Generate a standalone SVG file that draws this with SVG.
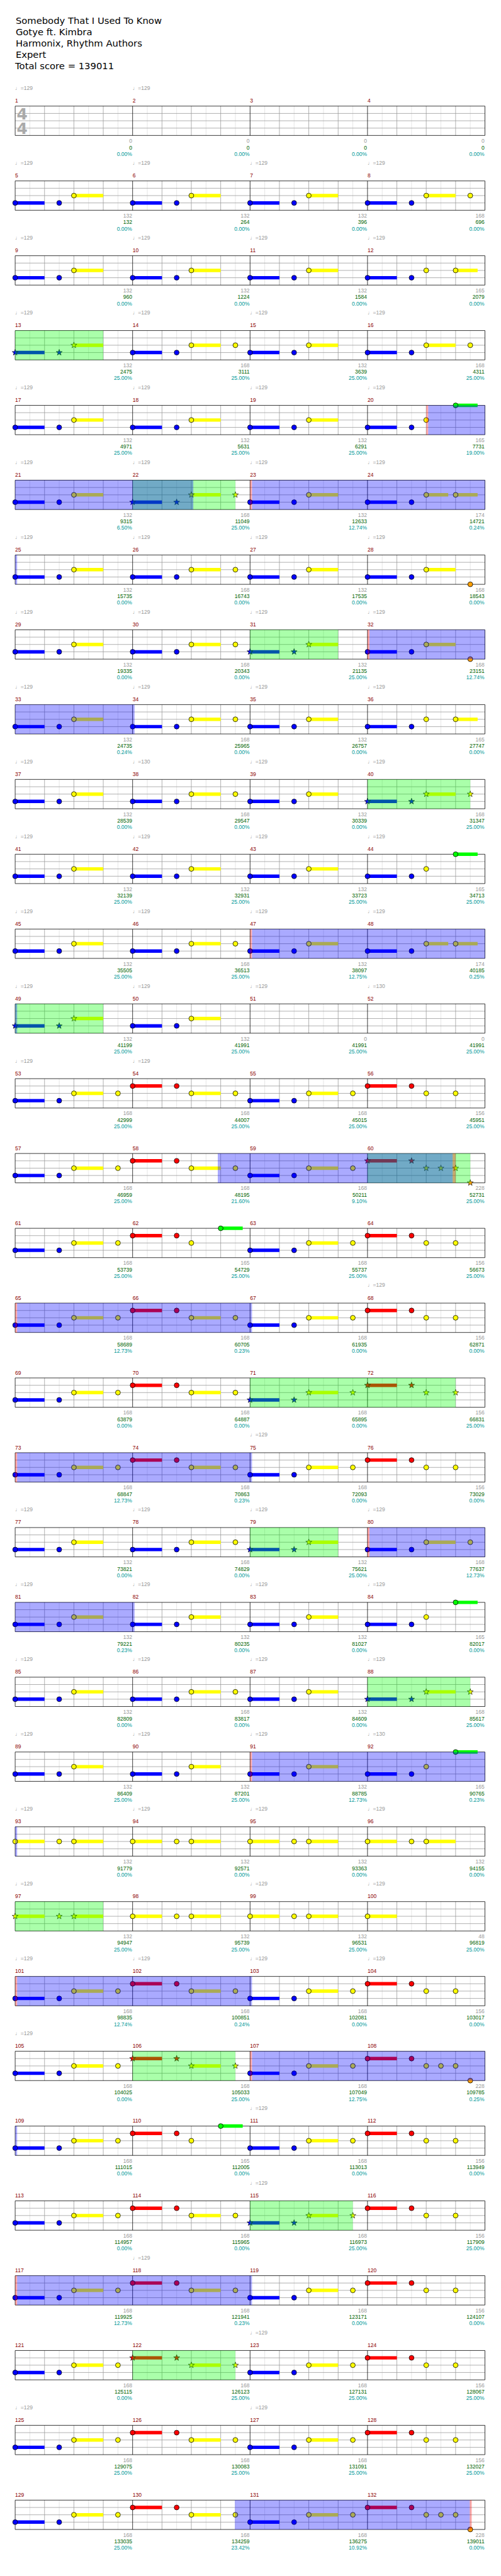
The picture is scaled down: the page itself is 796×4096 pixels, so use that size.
<svg xmlns="http://www.w3.org/2000/svg" xmlns:xlink="http://www.w3.org/1999/xlink" width="796" height="4096" viewBox="0 0 796 4096">
<style>
text{font-family:"Liberation Sans",Arial,sans-serif;font-size:11px}
.h{font-family:"DejaVu Sans",sans-serif;font-size:19px;fill:#000}
.ts{font-family:"DejaVu Sans",sans-serif;font-weight:bold;font-size:32px;fill:#aaa}
.mn{fill:#8b0000}
.tp{fill:#999}
.s1,.s2,.s3{text-anchor:end}
.s1{fill:#999}.s2{fill:#006400}.s3{fill:#009999}
.sb,.sy,.sr,.sg{stroke-width:7;fill:none}
.sb{stroke:#00f}.sy{stroke:#ff0}.sr{stroke:#f00}.sg{stroke:#0f0}
circle{stroke:#000;stroke-width:1}
.b{fill:#00f}.y{fill:#ff0}.r{fill:#f00}.g{fill:#0f0}.o{fill:#ffa000}
.ob{fill:#00f;fill-opacity:.333}.og{fill:#0f0;fill-opacity:.333}.op{fill:#f00;fill-opacity:.333}
</style>
<defs>
<g id="staff" fill="none" stroke-width="1">
<path stroke="#ddd" d="M30 0v60M90 0v60M150 0v60M210 0v60M270 0v60M330 0v60M390 0v60M450 0v60M510 0v60M570 0v60M630 0v60M690 0v60M750 0v60M810 0v60M870 0v60M930 0v60"/>
<path stroke="#999" d="M60 0v60M120 0v60M180 0v60M300 0v60M360 0v60M420 0v60M540 0v60M600 0v60M660 0v60M780 0v60M840 0v60M900 0v60M0 15h960M0 30h960M0 45h960"/>
<path stroke="#000" d="M240 0v60M480 0v60M720 0v60M0 0h960v60H0z"/>
</g>
<path id="st" d="M0-6.5L1.53-2.1 6.18-2.01 2.47.8 3.82 5.26 0 2.6-3.82 5.26-2.47.8-6.18-2.01-1.53-2.1Z" stroke="#000" stroke-width=".8"/>
</defs>
<rect width="796" height="4096" fill="#fff"/>
<g transform="scale(0.7775)">
<g id="header">
<text class="h" x="32" y="49">Somebody That I Used To Know</text>
<text class="h" x="32" y="72">Gotye ft. Kimbra</text>
<text class="h" x="32" y="95">Harmonix, Rhythm Authors</text>
<text class="h" x="32" y="118">Expert</text>
<text class="h" x="31" y="141">Total score = 139011</text>
</g>

<g id="row01" transform="translate(31,217)">
<use href="#staff"/>
<text class="ts" x="3" y="27">4</text><text class="ts" x="3" y="57">4</text>
<text class="mn" y="-7"><tspan x="0">1</tspan><tspan x="240">2</tspan><tspan x="480">3</tspan><tspan x="720">4</tspan></text>
<text class="tp" y="-33"><tspan x="0">♩=129</tspan><tspan x="240">♩=129</tspan></text>
<text class="s1" y="75"><tspan x="239">0</tspan><tspan x="479">0</tspan><tspan x="719">0</tspan><tspan x="959">0</tspan></text>
<text class="s2" y="88.5"><tspan x="239">0</tspan><tspan x="479">0</tspan><tspan x="719">0</tspan><tspan x="959">0</tspan></text>
<text class="s3" y="101.5"><tspan x="239">0.00%</tspan><tspan x="479">0.00%</tspan><tspan x="719">0.00%</tspan><tspan x="959">0.00%</tspan></text>
</g>

<g id="row02" transform="translate(31,370)">
<use href="#staff"/>
<path class="sb" d="M0 45h60M240 45h60M480 45h60M720 45h60"/>
<path class="sy" d="M120 30h60M360 30h60M600 30h60M840 30h60"/>
<circle class="b" cx="0" cy="45" r="5"/><circle class="b" cx="90" cy="45" r="5"/><circle class="y" cx="120" cy="30" r="5"/>
<circle class="b" cx="240" cy="45" r="5"/><circle class="b" cx="330" cy="45" r="5"/><circle class="y" cx="360" cy="30" r="5"/>
<circle class="b" cx="480" cy="45" r="5"/><circle class="b" cx="570" cy="45" r="5"/><circle class="y" cx="600" cy="30" r="5"/>
<circle class="b" cx="720" cy="45" r="5"/><circle class="b" cx="810" cy="45" r="5"/><circle class="y" cx="840" cy="30" r="5"/><circle class="y" cx="930" cy="30" r="5"/>
<text class="mn" y="-7"><tspan x="0">5</tspan><tspan x="240">6</tspan><tspan x="480">7</tspan><tspan x="720">8</tspan></text>
<text class="tp" y="-33"><tspan x="0">♩=129</tspan><tspan x="240">♩=129</tspan><tspan x="480">♩=129</tspan><tspan x="720">♩=129</tspan></text>
<text class="s1" y="75"><tspan x="239">132</tspan><tspan x="479">132</tspan><tspan x="719">132</tspan><tspan x="959">168</tspan></text>
<text class="s2" y="88.5"><tspan x="239">132</tspan><tspan x="479">264</tspan><tspan x="719">396</tspan><tspan x="959">696</tspan></text>
<text class="s3" y="101.5"><tspan x="239">0.00%</tspan><tspan x="479">0.00%</tspan><tspan x="719">0.00%</tspan><tspan x="959">0.00%</tspan></text>
</g>

<g id="row03" transform="translate(31,523)">
<use href="#staff"/>
<path class="sb" d="M0 45h60M240 45h60M480 45h60M720 45h60"/>
<path class="sy" d="M120 30h60M360 30h60M600 30h60M900 30h45"/>
<circle class="b" cx="0" cy="45" r="5"/><circle class="b" cx="90" cy="45" r="5"/><circle class="y" cx="120" cy="30" r="5"/>
<circle class="b" cx="240" cy="45" r="5"/><circle class="b" cx="330" cy="45" r="5"/><circle class="y" cx="360" cy="30" r="5"/>
<circle class="b" cx="480" cy="45" r="5"/><circle class="b" cx="570" cy="45" r="5"/><circle class="y" cx="600" cy="30" r="5"/>
<circle class="b" cx="720" cy="45" r="5"/><circle class="b" cx="810" cy="45" r="5"/><circle class="y" cx="840" cy="30" r="5"/><circle class="y" cx="900" cy="30" r="5"/>
<text class="mn" y="-7"><tspan x="0">9</tspan><tspan x="240">10</tspan><tspan x="480">11</tspan><tspan x="720">12</tspan></text>
<text class="tp" y="-33"><tspan x="0">♩=129</tspan><tspan x="240">♩=129</tspan><tspan x="480">♩=129</tspan><tspan x="720">♩=129</tspan></text>
<text class="s1" y="75"><tspan x="239">132</tspan><tspan x="479">132</tspan><tspan x="719">132</tspan><tspan x="959">165</tspan></text>
<text class="s2" y="88.5"><tspan x="239">960</tspan><tspan x="479">1224</tspan><tspan x="719">1584</tspan><tspan x="959">2079</tspan></text>
<text class="s3" y="101.5"><tspan x="239">0.00%</tspan><tspan x="479">0.00%</tspan><tspan x="719">0.00%</tspan><tspan x="959">0.00%</tspan></text>
</g>

<g id="row04" transform="translate(31,676)">
<use href="#staff"/>
<path class="sb" d="M0 45h60M240 45h60M480 45h60M720 45h60"/>
<path class="sy" d="M120 30h60M360 30h60M600 30h60M840 30h60"/>
<use href="#st" class="b" x="0" y="45"/><use href="#st" class="b" x="90" y="45"/><use href="#st" class="y" x="120" y="30"/>
<circle class="b" cx="240" cy="45" r="5"/><circle class="b" cx="330" cy="45" r="5"/><circle class="y" cx="360" cy="30" r="5"/><circle class="y" cx="450" cy="30" r="5"/>
<circle class="b" cx="480" cy="45" r="5"/><circle class="b" cx="570" cy="45" r="5"/><circle class="y" cx="600" cy="30" r="5"/>
<circle class="b" cx="720" cy="45" r="5"/><circle class="b" cx="810" cy="45" r="5"/><circle class="y" cx="840" cy="30" r="5"/><circle class="y" cx="930" cy="30" r="5"/>
<rect class="og" x="0" width="180" height="60"/>
<text class="mn" y="-7"><tspan x="0">13</tspan><tspan x="240">14</tspan><tspan x="480">15</tspan><tspan x="720">16</tspan></text>
<text class="tp" y="-33"><tspan x="0">♩=129</tspan><tspan x="240">♩=129</tspan><tspan x="480">♩=129</tspan><tspan x="720">♩=129</tspan></text>
<text class="s1" y="75"><tspan x="239">132</tspan><tspan x="479">168</tspan><tspan x="719">132</tspan><tspan x="959">168</tspan></text>
<text class="s2" y="88.5"><tspan x="239">2475</tspan><tspan x="479">3111</tspan><tspan x="719">3639</tspan><tspan x="959">4311</tspan></text>
<text class="s3" y="101.5"><tspan x="239">25.00%</tspan><tspan x="479">25.00%</tspan><tspan x="719">25.00%</tspan><tspan x="959">25.00%</tspan></text>
</g>

<g id="row05" transform="translate(31,829)">
<use href="#staff"/>
<path class="sb" d="M0 45h60M240 45h60M480 45h60M720 45h60"/>
<path class="sy" d="M120 30h60M360 30h60M600 30h60"/>
<path class="sg" d="M900 0h45"/>
<circle class="b" cx="0" cy="45" r="5"/><circle class="b" cx="90" cy="45" r="5"/><circle class="y" cx="120" cy="30" r="5"/>
<circle class="b" cx="240" cy="45" r="5"/><circle class="b" cx="330" cy="45" r="5"/><circle class="y" cx="360" cy="30" r="5"/>
<circle class="b" cx="480" cy="45" r="5"/><circle class="b" cx="570" cy="45" r="5"/><circle class="y" cx="600" cy="30" r="5"/>
<circle class="b" cx="720" cy="45" r="5"/><circle class="b" cx="810" cy="45" r="5"/><circle class="y" cx="840" cy="30" r="5"/><circle class="g" cx="900" cy="0" r="5"/>
<rect class="op" x="840" width="4" height="60"/><rect class="ob" x="844" width="116" height="60"/>
<text class="mn" y="-7"><tspan x="0">17</tspan><tspan x="240">18</tspan><tspan x="480">19</tspan><tspan x="720">20</tspan></text>
<text class="tp" y="-33"><tspan x="0">♩=129</tspan><tspan x="240">♩=129</tspan><tspan x="480">♩=129</tspan><tspan x="720">♩=129</tspan></text>
<text class="s1" y="75"><tspan x="239">132</tspan><tspan x="479">132</tspan><tspan x="719">132</tspan><tspan x="959">165</tspan></text>
<text class="s2" y="88.5"><tspan x="239">4971</tspan><tspan x="479">5631</tspan><tspan x="719">6291</tspan><tspan x="959">7731</tspan></text>
<text class="s3" y="101.5"><tspan x="239">25.00%</tspan><tspan x="479">25.00%</tspan><tspan x="719">25.00%</tspan><tspan x="959">19.00%</tspan></text>
</g>

<g id="row06" transform="translate(31,982)">
<use href="#staff"/>
<path class="sb" d="M0 45h60M240 45h60M480 45h60M720 45h60"/>
<path class="sy" d="M120 30h60M360 30h60M600 30h60M840 30h45M900 30h45"/>
<circle class="b" cx="0" cy="45" r="5"/><circle class="b" cx="90" cy="45" r="5"/><circle class="y" cx="120" cy="30" r="5"/>
<use href="#st" class="b" x="240" y="45"/><use href="#st" class="b" x="330" y="45"/><use href="#st" class="y" x="360" y="30"/><use href="#st" class="y" x="450" y="30"/>
<circle class="b" cx="480" cy="45" r="5"/><circle class="b" cx="570" cy="45" r="5"/><circle class="y" cx="600" cy="30" r="5"/>
<circle class="b" cx="720" cy="45" r="5"/><circle class="b" cx="810" cy="45" r="5"/><circle class="y" cx="840" cy="30" r="5"/><circle class="y" cx="900" cy="30" r="5"/>
<rect class="og" x="240" width="210" height="60"/>
<rect class="ob" x="0" width="364" height="60"/>
<rect class="op" x="480" width="4" height="60"/><rect class="ob" x="484" width="476" height="60"/>
<text class="mn" y="-7"><tspan x="0">21</tspan><tspan x="240">22</tspan><tspan x="480">23</tspan><tspan x="720">24</tspan></text>
<text class="tp" y="-33"><tspan x="0">♩=129</tspan><tspan x="240">♩=129</tspan><tspan x="480">♩=129</tspan><tspan x="720">♩=129</tspan></text>
<text class="s1" y="75"><tspan x="239">132</tspan><tspan x="479">168</tspan><tspan x="719">132</tspan><tspan x="959">174</tspan></text>
<text class="s2" y="88.5"><tspan x="239">9315</tspan><tspan x="479">11049</tspan><tspan x="719">12633</tspan><tspan x="959">14721</tspan></text>
<text class="s3" y="101.5"><tspan x="239">6.50%</tspan><tspan x="479">25.00%</tspan><tspan x="719">12.74%</tspan><tspan x="959">0.24%</tspan></text>
</g>

<g id="row07" transform="translate(31,1135)">
<use href="#staff"/>
<path class="sb" d="M0 45h60M240 45h60M480 45h60M720 45h60"/>
<path class="sy" d="M120 30h60M360 30h60M600 30h60M840 30h60"/>
<circle class="b" cx="0" cy="45" r="5"/><circle class="b" cx="90" cy="45" r="5"/><circle class="y" cx="120" cy="30" r="5"/>
<circle class="b" cx="240" cy="45" r="5"/><circle class="b" cx="330" cy="45" r="5"/><circle class="y" cx="360" cy="30" r="5"/><circle class="y" cx="450" cy="30" r="5"/>
<circle class="b" cx="480" cy="45" r="5"/><circle class="b" cx="570" cy="45" r="5"/><circle class="y" cx="600" cy="30" r="5"/>
<circle class="b" cx="720" cy="45" r="5"/><circle class="b" cx="810" cy="45" r="5"/><circle class="y" cx="840" cy="30" r="5"/><circle class="o" cx="930" cy="60" r="5"/>
<rect class="ob" x="0" width="4" height="60"/>
<text class="mn" y="-7"><tspan x="0">25</tspan><tspan x="240">26</tspan><tspan x="480">27</tspan><tspan x="720">28</tspan></text>
<text class="tp" y="-33"><tspan x="0">♩=129</tspan><tspan x="240">♩=129</tspan><tspan x="480">♩=129</tspan><tspan x="720">♩=129</tspan></text>
<text class="s1" y="75"><tspan x="239">132</tspan><tspan x="479">168</tspan><tspan x="719">132</tspan><tspan x="959">168</tspan></text>
<text class="s2" y="88.5"><tspan x="239">15735</tspan><tspan x="479">16743</tspan><tspan x="719">17535</tspan><tspan x="959">18543</tspan></text>
<text class="s3" y="101.5"><tspan x="239">0.00%</tspan><tspan x="479">0.00%</tspan><tspan x="719">0.00%</tspan><tspan x="959">0.00%</tspan></text>
</g>

<g id="row08" transform="translate(31,1288)">
<use href="#staff"/>
<path class="sb" d="M0 45h60M240 45h60M480 45h60M720 45h60"/>
<path class="sy" d="M120 30h60M360 30h60M600 30h60M840 30h60"/>
<circle class="b" cx="0" cy="45" r="5"/><circle class="b" cx="90" cy="45" r="5"/><circle class="y" cx="120" cy="30" r="5"/>
<circle class="b" cx="240" cy="45" r="5"/><circle class="b" cx="330" cy="45" r="5"/><circle class="y" cx="360" cy="30" r="5"/><circle class="y" cx="450" cy="30" r="5"/>
<use href="#st" class="b" x="480" y="45"/><use href="#st" class="b" x="570" y="45"/><use href="#st" class="y" x="600" y="30"/>
<circle class="b" cx="720" cy="45" r="5"/><circle class="b" cx="810" cy="45" r="5"/><circle class="y" cx="840" cy="30" r="5"/><circle class="o" cx="930" cy="60" r="5"/>
<rect class="og" x="480" width="180" height="60"/>
<rect class="op" x="720" width="4" height="60"/><rect class="ob" x="724" width="236" height="60"/>
<text class="mn" y="-7"><tspan x="0">29</tspan><tspan x="240">30</tspan><tspan x="480">31</tspan><tspan x="720">32</tspan></text>
<text class="tp" y="-33"><tspan x="0">♩=129</tspan><tspan x="240">♩=129</tspan><tspan x="480">♩=129</tspan><tspan x="720">♩=129</tspan></text>
<text class="s1" y="75"><tspan x="239">132</tspan><tspan x="479">168</tspan><tspan x="719">132</tspan><tspan x="959">168</tspan></text>
<text class="s2" y="88.5"><tspan x="239">19335</tspan><tspan x="479">20343</tspan><tspan x="719">21135</tspan><tspan x="959">23151</tspan></text>
<text class="s3" y="101.5"><tspan x="239">0.00%</tspan><tspan x="479">0.00%</tspan><tspan x="719">25.00%</tspan><tspan x="959">12.74%</tspan></text>
</g>

<g id="row09" transform="translate(31,1441)">
<use href="#staff"/>
<path class="sb" d="M0 45h60M240 45h60M480 45h60M720 45h60"/>
<path class="sy" d="M120 30h60M360 30h60M600 30h60M900 30h45"/>
<circle class="b" cx="0" cy="45" r="5"/><circle class="b" cx="90" cy="45" r="5"/><circle class="y" cx="120" cy="30" r="5"/>
<circle class="b" cx="240" cy="45" r="5"/><circle class="b" cx="330" cy="45" r="5"/><circle class="y" cx="360" cy="30" r="5"/><circle class="y" cx="450" cy="30" r="5"/>
<circle class="b" cx="480" cy="45" r="5"/><circle class="b" cx="570" cy="45" r="5"/><circle class="y" cx="600" cy="30" r="5"/>
<circle class="b" cx="720" cy="45" r="5"/><circle class="b" cx="810" cy="45" r="5"/><circle class="y" cx="840" cy="30" r="5"/><circle class="y" cx="900" cy="30" r="5"/>
<rect class="ob" x="0" width="244" height="60"/>
<text class="mn" y="-7"><tspan x="0">33</tspan><tspan x="240">34</tspan><tspan x="480">35</tspan><tspan x="720">36</tspan></text>
<text class="tp" y="-33"><tspan x="0">♩=129</tspan><tspan x="240">♩=129</tspan><tspan x="480">♩=129</tspan><tspan x="720">♩=129</tspan></text>
<text class="s1" y="75"><tspan x="239">132</tspan><tspan x="479">168</tspan><tspan x="719">132</tspan><tspan x="959">165</tspan></text>
<text class="s2" y="88.5"><tspan x="239">24735</tspan><tspan x="479">25965</tspan><tspan x="719">26757</tspan><tspan x="959">27747</tspan></text>
<text class="s3" y="101.5"><tspan x="239">0.24%</tspan><tspan x="479">0.00%</tspan><tspan x="719">0.00%</tspan><tspan x="959">0.00%</tspan></text>
</g>

<g id="row10" transform="translate(31,1594)">
<use href="#staff"/>
<path class="sb" d="M0 45h60M240 45h60M480 45h60M720 45h60"/>
<path class="sy" d="M120 30h60M360 30h60M600 30h60M840 30h60"/>
<circle class="b" cx="0" cy="45" r="5"/><circle class="b" cx="90" cy="45" r="5"/><circle class="y" cx="120" cy="30" r="5"/>
<circle class="b" cx="240" cy="45" r="5"/><circle class="b" cx="330" cy="45" r="5"/><circle class="y" cx="360" cy="30" r="5"/><circle class="y" cx="450" cy="30" r="5"/>
<circle class="b" cx="480" cy="45" r="5"/><circle class="b" cx="570" cy="45" r="5"/><circle class="y" cx="600" cy="30" r="5"/>
<use href="#st" class="b" x="720" y="45"/><use href="#st" class="b" x="810" y="45"/><use href="#st" class="y" x="840" y="30"/><use href="#st" class="y" x="930" y="30"/>
<rect class="og" x="720" width="210" height="60"/>
<text class="mn" y="-7"><tspan x="0">37</tspan><tspan x="240">38</tspan><tspan x="480">39</tspan><tspan x="720">40</tspan></text>
<text class="tp" y="-33"><tspan x="0">♩=129</tspan><tspan x="240">♩=130</tspan><tspan x="480">♩=129</tspan><tspan x="720">♩=129</tspan></text>
<text class="s1" y="75"><tspan x="239">132</tspan><tspan x="479">168</tspan><tspan x="719">132</tspan><tspan x="959">168</tspan></text>
<text class="s2" y="88.5"><tspan x="239">28539</tspan><tspan x="479">29547</tspan><tspan x="719">30339</tspan><tspan x="959">31347</tspan></text>
<text class="s3" y="101.5"><tspan x="239">0.00%</tspan><tspan x="479">0.00%</tspan><tspan x="719">0.00%</tspan><tspan x="959">25.00%</tspan></text>
</g>

<g id="row11" transform="translate(31,1747)">
<use href="#staff"/>
<path class="sb" d="M0 45h60M240 45h60M480 45h60M720 45h60"/>
<path class="sy" d="M120 30h60M360 30h60M600 30h60"/>
<path class="sg" d="M900 0h45"/>
<circle class="b" cx="0" cy="45" r="5"/><circle class="b" cx="90" cy="45" r="5"/><circle class="y" cx="120" cy="30" r="5"/>
<circle class="b" cx="240" cy="45" r="5"/><circle class="b" cx="330" cy="45" r="5"/><circle class="y" cx="360" cy="30" r="5"/>
<circle class="b" cx="480" cy="45" r="5"/><circle class="b" cx="570" cy="45" r="5"/><circle class="y" cx="600" cy="30" r="5"/>
<circle class="b" cx="720" cy="45" r="5"/><circle class="b" cx="810" cy="45" r="5"/><circle class="y" cx="840" cy="30" r="5"/><circle class="g" cx="900" cy="0" r="5"/>
<text class="mn" y="-7"><tspan x="0">41</tspan><tspan x="240">42</tspan><tspan x="480">43</tspan><tspan x="720">44</tspan></text>
<text class="tp" y="-33"><tspan x="0">♩=129</tspan><tspan x="240">♩=129</tspan><tspan x="480">♩=129</tspan><tspan x="720">♩=129</tspan></text>
<text class="s1" y="75"><tspan x="239">132</tspan><tspan x="479">132</tspan><tspan x="719">132</tspan><tspan x="959">165</tspan></text>
<text class="s2" y="88.5"><tspan x="239">32139</tspan><tspan x="479">32931</tspan><tspan x="719">33723</tspan><tspan x="959">34713</tspan></text>
<text class="s3" y="101.5"><tspan x="239">25.00%</tspan><tspan x="479">25.00%</tspan><tspan x="719">25.00%</tspan><tspan x="959">25.00%</tspan></text>
</g>

<g id="row12" transform="translate(31,1900)">
<use href="#staff"/>
<path class="sb" d="M0 45h60M240 45h60M480 45h60M720 45h60"/>
<path class="sy" d="M120 30h60M360 30h60M600 30h60M840 30h45M900 30h45"/>
<circle class="b" cx="0" cy="45" r="5"/><circle class="b" cx="90" cy="45" r="5"/><circle class="y" cx="120" cy="30" r="5"/>
<circle class="b" cx="240" cy="45" r="5"/><circle class="b" cx="330" cy="45" r="5"/><circle class="y" cx="360" cy="30" r="5"/><circle class="y" cx="450" cy="30" r="5"/>
<circle class="b" cx="480" cy="45" r="5"/><circle class="b" cx="570" cy="45" r="5"/><circle class="y" cx="600" cy="30" r="5"/>
<circle class="b" cx="720" cy="45" r="5"/><circle class="b" cx="810" cy="45" r="5"/><circle class="y" cx="840" cy="30" r="5"/><circle class="y" cx="900" cy="30" r="5"/>
<rect class="op" x="480" width="4" height="60"/><rect class="ob" x="484" width="476" height="60"/>
<text class="mn" y="-7"><tspan x="0">45</tspan><tspan x="240">46</tspan><tspan x="480">47</tspan><tspan x="720">48</tspan></text>
<text class="tp" y="-33"><tspan x="0">♩=129</tspan><tspan x="240">♩=129</tspan><tspan x="480">♩=129</tspan><tspan x="720">♩=129</tspan></text>
<text class="s1" y="75"><tspan x="239">132</tspan><tspan x="479">168</tspan><tspan x="719">132</tspan><tspan x="959">174</tspan></text>
<text class="s2" y="88.5"><tspan x="239">35505</tspan><tspan x="479">36513</tspan><tspan x="719">38097</tspan><tspan x="959">40185</tspan></text>
<text class="s3" y="101.5"><tspan x="239">25.00%</tspan><tspan x="479">25.00%</tspan><tspan x="719">12.75%</tspan><tspan x="959">0.25%</tspan></text>
</g>

<g id="row13" transform="translate(31,2053)">
<use href="#staff"/>
<path class="sb" d="M0 45h60M240 45h60"/>
<path class="sy" d="M120 30h60M360 30h60"/>
<use href="#st" class="b" x="0" y="45"/><use href="#st" class="b" x="90" y="45"/><use href="#st" class="y" x="120" y="30"/>
<circle class="b" cx="240" cy="45" r="5"/><circle class="b" cx="330" cy="45" r="5"/><circle class="y" cx="360" cy="30" r="5"/>
<rect class="og" x="0" width="180" height="60"/><rect class="ob" x="0" width="4" height="60"/>
<text class="mn" y="-7"><tspan x="0">49</tspan><tspan x="240">50</tspan><tspan x="480">51</tspan><tspan x="720">52</tspan></text>
<text class="tp" y="-33"><tspan x="0">♩=129</tspan><tspan x="240">♩=129</tspan><tspan x="480">♩=129</tspan><tspan x="720">♩=130</tspan></text>
<text class="s1" y="75"><tspan x="239">132</tspan><tspan x="479">132</tspan><tspan x="719">0</tspan><tspan x="959">0</tspan></text>
<text class="s2" y="88.5"><tspan x="239">41199</tspan><tspan x="479">41991</tspan><tspan x="719">41991</tspan><tspan x="959">41991</tspan></text>
<text class="s3" y="101.5"><tspan x="239">25.00%</tspan><tspan x="479">25.00%</tspan><tspan x="719">25.00%</tspan><tspan x="959">25.00%</tspan></text>
</g>

<g id="row14" transform="translate(31,2206)">
<use href="#staff"/>
<path class="sb" d="M0 45h60M480 45h60"/>
<path class="sr" d="M240 15h60M720 15h60"/>
<path class="sy" d="M120 30h60M360 30h60M600 30h60"/>
<circle class="b" cx="0" cy="45" r="5"/><circle class="b" cx="90" cy="45" r="5"/><circle class="y" cx="120" cy="30" r="5"/><circle class="y" cx="210" cy="30" r="5"/>
<circle class="r" cx="240" cy="15" r="5"/><circle class="r" cx="330" cy="15" r="5"/><circle class="y" cx="360" cy="30" r="5"/><circle class="y" cx="450" cy="30" r="5"/>
<circle class="b" cx="480" cy="45" r="5"/><circle class="b" cx="570" cy="45" r="5"/><circle class="y" cx="600" cy="30" r="5"/><circle class="y" cx="690" cy="30" r="5"/>
<circle class="r" cx="720" cy="15" r="5"/><circle class="r" cx="810" cy="15" r="5"/><circle class="y" cx="840" cy="30" r="5"/><circle class="y" cx="900" cy="30" r="5"/>
<text class="mn" y="-7"><tspan x="0">53</tspan><tspan x="240">54</tspan><tspan x="480">55</tspan><tspan x="720">56</tspan></text>
<text class="tp" y="-33"><tspan x="0">♩=129</tspan><tspan x="240">♩=129</tspan></text>
<text class="s1" y="75"><tspan x="239">168</tspan><tspan x="479">168</tspan><tspan x="719">168</tspan><tspan x="959">156</tspan></text>
<text class="s2" y="88.5"><tspan x="239">42999</tspan><tspan x="479">44007</tspan><tspan x="719">45015</tspan><tspan x="959">45951</tspan></text>
<text class="s3" y="101.5"><tspan x="239">25.00%</tspan><tspan x="479">25.00%</tspan><tspan x="719">25.00%</tspan><tspan x="959">25.00%</tspan></text>
</g>

<g id="row15" transform="translate(31,2359)">
<use href="#staff"/>
<path class="sb" d="M0 45h60M480 45h60"/>
<path class="sr" d="M240 15h60M720 15h60"/>
<path class="sy" d="M120 30h60M360 30h60M600 30h60"/>
<circle class="b" cx="0" cy="45" r="5"/><circle class="b" cx="90" cy="45" r="5"/><circle class="y" cx="120" cy="30" r="5"/><circle class="y" cx="210" cy="30" r="5"/>
<circle class="r" cx="240" cy="15" r="5"/><circle class="r" cx="330" cy="15" r="5"/><circle class="y" cx="360" cy="30" r="5"/><circle class="y" cx="450" cy="30" r="5"/>
<circle class="b" cx="480" cy="45" r="5"/><circle class="b" cx="570" cy="45" r="5"/><circle class="y" cx="600" cy="30" r="5"/><circle class="y" cx="690" cy="30" r="5"/>
<use href="#st" class="r" x="720" y="15"/><use href="#st" class="r" x="810" y="15"/><use href="#st" class="y" x="840" y="30"/><use href="#st" class="y" x="870" y="30"/><use href="#st" class="y" x="900" y="30"/><use href="#st" class="o" x="930" y="60"/>
<rect class="og" x="720" width="210" height="60"/>
<rect class="ob" x="414" width="480" height="60"/>
<rect class="op" x="894" width="6" height="60"/>
<text class="mn" y="-7"><tspan x="0">57</tspan><tspan x="240">58</tspan><tspan x="480">59</tspan><tspan x="720">60</tspan></text>
<text class="s1" y="75"><tspan x="239">168</tspan><tspan x="479">168</tspan><tspan x="719">168</tspan><tspan x="959">228</tspan></text>
<text class="s2" y="88.5"><tspan x="239">46959</tspan><tspan x="479">48195</tspan><tspan x="719">50211</tspan><tspan x="959">52731</tspan></text>
<text class="s3" y="101.5"><tspan x="239">25.00%</tspan><tspan x="479">21.60%</tspan><tspan x="719">9.10%</tspan><tspan x="959">25.00%</tspan></text>
</g>

<g id="row16" transform="translate(31,2512)">
<use href="#staff"/>
<path class="sb" d="M0 45h60M480 45h60"/>
<path class="sr" d="M240 15h60M720 15h60"/>
<path class="sy" d="M120 30h60M600 30h60"/>
<path class="sg" d="M420 0h45"/>
<circle class="b" cx="0" cy="45" r="5"/><circle class="b" cx="90" cy="45" r="5"/><circle class="y" cx="120" cy="30" r="5"/><circle class="y" cx="210" cy="30" r="5"/>
<circle class="r" cx="240" cy="15" r="5"/><circle class="r" cx="330" cy="15" r="5"/><circle class="y" cx="360" cy="30" r="5"/><circle class="g" cx="420" cy="0" r="5"/>
<circle class="b" cx="480" cy="45" r="5"/><circle class="b" cx="570" cy="45" r="5"/><circle class="y" cx="600" cy="30" r="5"/><circle class="y" cx="690" cy="30" r="5"/>
<circle class="r" cx="720" cy="15" r="5"/><circle class="r" cx="810" cy="15" r="5"/><circle class="y" cx="840" cy="30" r="5"/><circle class="y" cx="900" cy="30" r="5"/>
<text class="mn" y="-7"><tspan x="0">61</tspan><tspan x="240">62</tspan><tspan x="480">63</tspan><tspan x="720">64</tspan></text>
<text class="s1" y="75"><tspan x="239">168</tspan><tspan x="479">165</tspan><tspan x="719">168</tspan><tspan x="959">156</tspan></text>
<text class="s2" y="88.5"><tspan x="239">53739</tspan><tspan x="479">54729</tspan><tspan x="719">55737</tspan><tspan x="959">56673</tspan></text>
<text class="s3" y="101.5"><tspan x="239">25.00%</tspan><tspan x="479">25.00%</tspan><tspan x="719">25.00%</tspan><tspan x="959">25.00%</tspan></text>
</g>

<g id="row17" transform="translate(31,2665)">
<use href="#staff"/>
<path class="sb" d="M0 45h60M480 45h60"/>
<path class="sr" d="M240 15h60M720 15h60"/>
<path class="sy" d="M120 30h60M360 30h60M600 30h60"/>
<circle class="b" cx="0" cy="45" r="5"/><circle class="b" cx="90" cy="45" r="5"/><circle class="y" cx="120" cy="30" r="5"/><circle class="y" cx="210" cy="30" r="5"/>
<circle class="r" cx="240" cy="15" r="5"/><circle class="r" cx="330" cy="15" r="5"/><circle class="y" cx="360" cy="30" r="5"/><circle class="y" cx="450" cy="30" r="5"/>
<circle class="b" cx="480" cy="45" r="5"/><circle class="b" cx="570" cy="45" r="5"/><circle class="y" cx="600" cy="30" r="5"/><circle class="y" cx="690" cy="30" r="5"/>
<circle class="r" cx="720" cy="15" r="5"/><circle class="r" cx="810" cy="15" r="5"/><circle class="y" cx="840" cy="30" r="5"/><circle class="y" cx="900" cy="30" r="5"/>
<rect class="op" x="0" width="4" height="60"/><rect class="ob" x="4" width="480" height="60"/>
<text class="mn" y="-7"><tspan x="0">65</tspan><tspan x="240">66</tspan><tspan x="480">67</tspan><tspan x="720">68</tspan></text>
<text class="tp" y="-33"><tspan x="720">♩=129</tspan></text>
<text class="s1" y="75"><tspan x="239">168</tspan><tspan x="479">168</tspan><tspan x="719">168</tspan><tspan x="959">156</tspan></text>
<text class="s2" y="88.5"><tspan x="239">58689</tspan><tspan x="479">60705</tspan><tspan x="719">61935</tspan><tspan x="959">62871</tspan></text>
<text class="s3" y="101.5"><tspan x="239">12.73%</tspan><tspan x="479">0.23%</tspan><tspan x="719">0.00%</tspan><tspan x="959">0.00%</tspan></text>
</g>

<g id="row18" transform="translate(31,2818)">
<use href="#staff"/>
<path class="sb" d="M0 45h60M480 45h60"/>
<path class="sr" d="M240 15h60M720 15h60"/>
<path class="sy" d="M120 30h60M360 30h60M600 30h60"/>
<circle class="b" cx="0" cy="45" r="5"/><circle class="b" cx="90" cy="45" r="5"/><circle class="y" cx="120" cy="30" r="5"/><circle class="y" cx="210" cy="30" r="5"/>
<circle class="r" cx="240" cy="15" r="5"/><circle class="r" cx="330" cy="15" r="5"/><circle class="y" cx="360" cy="30" r="5"/><circle class="y" cx="450" cy="30" r="5"/>
<use href="#st" class="b" x="480" y="45"/><use href="#st" class="b" x="570" y="45"/><use href="#st" class="y" x="600" y="30"/><use href="#st" class="y" x="690" y="30"/>
<use href="#st" class="r" x="720" y="15"/><use href="#st" class="r" x="810" y="15"/><use href="#st" class="y" x="840" y="30"/><use href="#st" class="y" x="900" y="30"/>
<rect class="og" x="480" width="420" height="60"/>
<text class="mn" y="-7"><tspan x="0">69</tspan><tspan x="240">70</tspan><tspan x="480">71</tspan><tspan x="720">72</tspan></text>
<text class="s1" y="75"><tspan x="239">168</tspan><tspan x="479">168</tspan><tspan x="719">168</tspan><tspan x="959">156</tspan></text>
<text class="s2" y="88.5"><tspan x="239">63879</tspan><tspan x="479">64887</tspan><tspan x="719">65895</tspan><tspan x="959">66831</tspan></text>
<text class="s3" y="101.5"><tspan x="239">0.00%</tspan><tspan x="479">0.00%</tspan><tspan x="719">0.00%</tspan><tspan x="959">25.00%</tspan></text>
</g>

<g id="row19" transform="translate(31,2971)">
<use href="#staff"/>
<path class="sb" d="M0 45h60M480 45h60"/>
<path class="sr" d="M240 15h60M720 15h60"/>
<path class="sy" d="M120 30h60M360 30h60M600 30h60"/>
<circle class="b" cx="0" cy="45" r="5"/><circle class="b" cx="90" cy="45" r="5"/><circle class="y" cx="120" cy="30" r="5"/><circle class="y" cx="210" cy="30" r="5"/>
<circle class="r" cx="240" cy="15" r="5"/><circle class="r" cx="330" cy="15" r="5"/><circle class="y" cx="360" cy="30" r="5"/><circle class="y" cx="450" cy="30" r="5"/>
<circle class="b" cx="480" cy="45" r="5"/><circle class="b" cx="570" cy="45" r="5"/><circle class="y" cx="600" cy="30" r="5"/><circle class="y" cx="690" cy="30" r="5"/>
<circle class="r" cx="720" cy="15" r="5"/><circle class="r" cx="810" cy="15" r="5"/><circle class="y" cx="840" cy="30" r="5"/><circle class="y" cx="900" cy="30" r="5"/>
<rect class="op" x="0" width="4" height="60"/><rect class="ob" x="4" width="480" height="60"/>
<text class="mn" y="-7"><tspan x="0">73</tspan><tspan x="240">74</tspan><tspan x="480">75</tspan><tspan x="720">76</tspan></text>
<text class="tp" y="-33"><tspan x="480">♩=129</tspan></text>
<text class="s1" y="75"><tspan x="239">168</tspan><tspan x="479">168</tspan><tspan x="719">168</tspan><tspan x="959">156</tspan></text>
<text class="s2" y="88.5"><tspan x="239">68847</tspan><tspan x="479">70863</tspan><tspan x="719">72093</tspan><tspan x="959">73029</tspan></text>
<text class="s3" y="101.5"><tspan x="239">12.73%</tspan><tspan x="479">0.23%</tspan><tspan x="719">0.00%</tspan><tspan x="959">0.00%</tspan></text>
</g>

<g id="row20" transform="translate(31,3124)">
<use href="#staff"/>
<path class="sb" d="M0 45h60M240 45h60M480 45h60M720 45h60"/>
<path class="sy" d="M120 30h60M360 30h60M600 30h60M840 30h60"/>
<circle class="b" cx="0" cy="45" r="5"/><circle class="b" cx="90" cy="45" r="5"/><circle class="y" cx="120" cy="30" r="5"/>
<circle class="b" cx="240" cy="45" r="5"/><circle class="b" cx="330" cy="45" r="5"/><circle class="y" cx="360" cy="30" r="5"/><circle class="y" cx="450" cy="30" r="5"/>
<use href="#st" class="b" x="480" y="45"/><use href="#st" class="b" x="570" y="45"/><use href="#st" class="y" x="600" y="30"/>
<circle class="b" cx="720" cy="45" r="5"/><circle class="b" cx="810" cy="45" r="5"/><circle class="y" cx="840" cy="30" r="5"/><circle class="y" cx="930" cy="30" r="5"/>
<rect class="og" x="480" width="180" height="60"/>
<rect class="op" x="720" width="4" height="60"/><rect class="ob" x="724" width="236" height="60"/>
<text class="mn" y="-7"><tspan x="0">77</tspan><tspan x="240">78</tspan><tspan x="480">79</tspan><tspan x="720">80</tspan></text>
<text class="tp" y="-33"><tspan x="0">♩=129</tspan><tspan x="240">♩=129</tspan><tspan x="480">♩=129</tspan><tspan x="720">♩=129</tspan></text>
<text class="s1" y="75"><tspan x="239">132</tspan><tspan x="479">168</tspan><tspan x="719">132</tspan><tspan x="959">168</tspan></text>
<text class="s2" y="88.5"><tspan x="239">73821</tspan><tspan x="479">74829</tspan><tspan x="719">75621</tspan><tspan x="959">77637</tspan></text>
<text class="s3" y="101.5"><tspan x="239">0.00%</tspan><tspan x="479">0.00%</tspan><tspan x="719">25.00%</tspan><tspan x="959">12.73%</tspan></text>
</g>

<g id="row21" transform="translate(31,3277)">
<use href="#staff"/>
<path class="sb" d="M0 45h60M240 45h60M480 45h60M720 45h60"/>
<path class="sy" d="M120 30h60M360 30h60M600 30h60"/>
<path class="sg" d="M900 0h45"/>
<circle class="b" cx="0" cy="45" r="5"/><circle class="b" cx="90" cy="45" r="5"/><circle class="y" cx="120" cy="30" r="5"/>
<circle class="b" cx="240" cy="45" r="5"/><circle class="b" cx="330" cy="45" r="5"/><circle class="y" cx="360" cy="30" r="5"/>
<circle class="b" cx="480" cy="45" r="5"/><circle class="b" cx="570" cy="45" r="5"/><circle class="y" cx="600" cy="30" r="5"/>
<circle class="b" cx="720" cy="45" r="5"/><circle class="b" cx="810" cy="45" r="5"/><circle class="y" cx="840" cy="30" r="5"/><circle class="g" cx="900" cy="0" r="5"/>
<rect class="ob" x="0" width="244" height="60"/>
<text class="mn" y="-7"><tspan x="0">81</tspan><tspan x="240">82</tspan><tspan x="480">83</tspan><tspan x="720">84</tspan></text>
<text class="tp" y="-33"><tspan x="0">♩=129</tspan><tspan x="240">♩=129</tspan><tspan x="480">♩=129</tspan><tspan x="720">♩=129</tspan></text>
<text class="s1" y="75"><tspan x="239">132</tspan><tspan x="479">132</tspan><tspan x="719">132</tspan><tspan x="959">165</tspan></text>
<text class="s2" y="88.5"><tspan x="239">79221</tspan><tspan x="479">80235</tspan><tspan x="719">81027</tspan><tspan x="959">82017</tspan></text>
<text class="s3" y="101.5"><tspan x="239">0.23%</tspan><tspan x="479">0.00%</tspan><tspan x="719">0.00%</tspan><tspan x="959">0.00%</tspan></text>
</g>

<g id="row22" transform="translate(31,3430)">
<use href="#staff"/>
<path class="sb" d="M0 45h60M240 45h60M480 45h60M720 45h60"/>
<path class="sy" d="M120 30h60M360 30h60M600 30h60M840 30h60"/>
<circle class="b" cx="0" cy="45" r="5"/><circle class="b" cx="90" cy="45" r="5"/><circle class="y" cx="120" cy="30" r="5"/>
<circle class="b" cx="240" cy="45" r="5"/><circle class="b" cx="330" cy="45" r="5"/><circle class="y" cx="360" cy="30" r="5"/><circle class="y" cx="450" cy="30" r="5"/>
<circle class="b" cx="480" cy="45" r="5"/><circle class="b" cx="570" cy="45" r="5"/><circle class="y" cx="600" cy="30" r="5"/>
<use href="#st" class="b" x="720" y="45"/><use href="#st" class="b" x="810" y="45"/><use href="#st" class="y" x="840" y="30"/><use href="#st" class="y" x="930" y="30"/>
<rect class="og" x="720" width="210" height="60"/>
<text class="mn" y="-7"><tspan x="0">85</tspan><tspan x="240">86</tspan><tspan x="480">87</tspan><tspan x="720">88</tspan></text>
<text class="tp" y="-33"><tspan x="0">♩=129</tspan><tspan x="240">♩=129</tspan><tspan x="480">♩=129</tspan><tspan x="720">♩=129</tspan></text>
<text class="s1" y="75"><tspan x="239">132</tspan><tspan x="479">168</tspan><tspan x="719">132</tspan><tspan x="959">168</tspan></text>
<text class="s2" y="88.5"><tspan x="239">82809</tspan><tspan x="479">83817</tspan><tspan x="719">84609</tspan><tspan x="959">85617</tspan></text>
<text class="s3" y="101.5"><tspan x="239">0.00%</tspan><tspan x="479">0.00%</tspan><tspan x="719">0.00%</tspan><tspan x="959">25.00%</tspan></text>
</g>

<g id="row23" transform="translate(31,3583)">
<use href="#staff"/>
<path class="sb" d="M0 45h60M240 45h60M480 45h60M720 45h60"/>
<path class="sy" d="M120 30h60M360 30h60M600 30h60"/>
<path class="sg" d="M900 0h45"/>
<circle class="b" cx="0" cy="45" r="5"/><circle class="b" cx="90" cy="45" r="5"/><circle class="y" cx="120" cy="30" r="5"/>
<circle class="b" cx="240" cy="45" r="5"/><circle class="b" cx="330" cy="45" r="5"/><circle class="y" cx="360" cy="30" r="5"/>
<circle class="b" cx="480" cy="45" r="5"/><circle class="b" cx="570" cy="45" r="5"/><circle class="y" cx="600" cy="30" r="5"/>
<circle class="b" cx="720" cy="45" r="5"/><circle class="b" cx="810" cy="45" r="5"/><circle class="y" cx="840" cy="30" r="5"/><circle class="g" cx="900" cy="0" r="5"/>
<rect class="op" x="480" width="4" height="60"/><rect class="ob" x="484" width="476" height="60"/>
<text class="mn" y="-7"><tspan x="0">89</tspan><tspan x="240">90</tspan><tspan x="480">91</tspan><tspan x="720">92</tspan></text>
<text class="tp" y="-33"><tspan x="0">♩=129</tspan><tspan x="240">♩=129</tspan><tspan x="480">♩=129</tspan><tspan x="720">♩=130</tspan></text>
<text class="s1" y="75"><tspan x="239">132</tspan><tspan x="479">132</tspan><tspan x="719">132</tspan><tspan x="959">165</tspan></text>
<text class="s2" y="88.5"><tspan x="239">86409</tspan><tspan x="479">87201</tspan><tspan x="719">88785</tspan><tspan x="959">90765</tspan></text>
<text class="s3" y="101.5"><tspan x="239">25.00%</tspan><tspan x="479">25.00%</tspan><tspan x="719">12.73%</tspan><tspan x="959">0.23%</tspan></text>
</g>

<g id="row24" transform="translate(31,3736)">
<use href="#staff"/>
<path class="sy" d="M0 30h60M120 30h60M240 30h60M360 30h60M480 30h60M600 30h60M720 30h60M840 30h60"/>
<circle class="y" cx="0" cy="30" r="5"/><circle class="y" cx="90" cy="30" r="5"/><circle class="y" cx="120" cy="30" r="5"/>
<circle class="y" cx="240" cy="30" r="5"/><circle class="y" cx="330" cy="30" r="5"/><circle class="y" cx="360" cy="30" r="5"/>
<circle class="y" cx="480" cy="30" r="5"/><circle class="y" cx="570" cy="30" r="5"/><circle class="y" cx="600" cy="30" r="5"/>
<circle class="y" cx="720" cy="30" r="5"/><circle class="y" cx="810" cy="30" r="5"/><circle class="y" cx="840" cy="30" r="5"/>
<rect class="ob" x="0" width="4" height="60"/>
<text class="mn" y="-7"><tspan x="0">93</tspan><tspan x="240">94</tspan><tspan x="480">95</tspan><tspan x="720">96</tspan></text>
<text class="tp" y="-33"><tspan x="0">♩=129</tspan><tspan x="240">♩=129</tspan><tspan x="480">♩=129</tspan><tspan x="720">♩=129</tspan></text>
<text class="s1" y="75"><tspan x="239">132</tspan><tspan x="479">132</tspan><tspan x="719">132</tspan><tspan x="959">132</tspan></text>
<text class="s2" y="88.5"><tspan x="239">91779</tspan><tspan x="479">92571</tspan><tspan x="719">93363</tspan><tspan x="959">94155</tspan></text>
<text class="s3" y="101.5"><tspan x="239">0.00%</tspan><tspan x="479">0.00%</tspan><tspan x="719">0.00%</tspan><tspan x="959">0.00%</tspan></text>
</g>

<g id="row25" transform="translate(31,3889)">
<use href="#staff"/>
<path class="sy" d="M0 30h60M120 30h60M240 30h60M360 30h60M480 30h60M600 30h60M720 30h60"/>
<use href="#st" class="y" x="0" y="30"/><use href="#st" class="y" x="90" y="30"/><use href="#st" class="y" x="120" y="30"/>
<circle class="y" cx="240" cy="30" r="5"/><circle class="y" cx="330" cy="30" r="5"/><circle class="y" cx="360" cy="30" r="5"/>
<circle class="y" cx="480" cy="30" r="5"/><circle class="y" cx="570" cy="30" r="5"/><circle class="y" cx="600" cy="30" r="5"/>
<circle class="y" cx="720" cy="30" r="5"/>
<rect class="og" x="0" width="180" height="60"/>
<text class="mn" y="-7"><tspan x="0">97</tspan><tspan x="240">98</tspan><tspan x="480">99</tspan><tspan x="720">100</tspan></text>
<text class="tp" y="-33"><tspan x="0">♩=129</tspan><tspan x="480">♩=129</tspan><tspan x="720">♩=129</tspan></text>
<text class="s1" y="75"><tspan x="239">132</tspan><tspan x="479">132</tspan><tspan x="719">132</tspan><tspan x="959">48</tspan></text>
<text class="s2" y="88.5"><tspan x="239">94947</tspan><tspan x="479">95739</tspan><tspan x="719">96531</tspan><tspan x="959">96819</tspan></text>
<text class="s3" y="101.5"><tspan x="239">25.00%</tspan><tspan x="479">25.00%</tspan><tspan x="719">25.00%</tspan><tspan x="959">25.00%</tspan></text>
</g>

<g id="row26" transform="translate(31,4042)">
<use href="#staff"/>
<path class="sb" d="M0 45h60M480 45h60"/>
<path class="sr" d="M240 15h60M720 15h60"/>
<path class="sy" d="M120 30h60M360 30h60M600 30h60"/>
<circle class="b" cx="0" cy="45" r="5"/><circle class="b" cx="90" cy="45" r="5"/><circle class="y" cx="120" cy="30" r="5"/><circle class="y" cx="210" cy="30" r="5"/>
<circle class="r" cx="240" cy="15" r="5"/><circle class="r" cx="330" cy="15" r="5"/><circle class="y" cx="360" cy="30" r="5"/><circle class="y" cx="450" cy="30" r="5"/>
<circle class="b" cx="480" cy="45" r="5"/><circle class="b" cx="570" cy="45" r="5"/><circle class="y" cx="600" cy="30" r="5"/><circle class="y" cx="690" cy="30" r="5"/>
<circle class="r" cx="720" cy="15" r="5"/><circle class="r" cx="810" cy="15" r="5"/><circle class="y" cx="840" cy="30" r="5"/><circle class="y" cx="900" cy="30" r="5"/>
<rect class="op" x="0" width="4" height="60"/><rect class="ob" x="4" width="480" height="60"/>
<text class="mn" y="-7"><tspan x="0">101</tspan><tspan x="240">102</tspan><tspan x="480">103</tspan><tspan x="720">104</tspan></text>
<text class="tp" y="-33"><tspan x="0">♩=129</tspan><tspan x="240">♩=129</tspan><tspan x="480">♩=129</tspan><tspan x="720">♩=129</tspan></text>
<text class="s1" y="75"><tspan x="239">168</tspan><tspan x="479">168</tspan><tspan x="719">168</tspan><tspan x="959">156</tspan></text>
<text class="s2" y="88.5"><tspan x="239">98835</tspan><tspan x="479">100851</tspan><tspan x="719">102081</tspan><tspan x="959">103017</tspan></text>
<text class="s3" y="101.5"><tspan x="239">12.74%</tspan><tspan x="479">0.24%</tspan><tspan x="719">0.00%</tspan><tspan x="959">0.00%</tspan></text>
</g>

<g id="row27" transform="translate(31,4195)">
<use href="#staff"/>
<path class="sb" d="M0 45h60M480 45h60"/>
<path class="sr" d="M240 15h60M720 15h60"/>
<path class="sy" d="M120 30h60M360 30h60M600 30h60"/>
<circle class="b" cx="0" cy="45" r="5"/><circle class="b" cx="90" cy="45" r="5"/><circle class="y" cx="120" cy="30" r="5"/><circle class="y" cx="210" cy="30" r="5"/>
<use href="#st" class="r" x="240" y="15"/><use href="#st" class="r" x="330" y="15"/><use href="#st" class="y" x="360" y="30"/><use href="#st" class="y" x="450" y="30"/>
<circle class="b" cx="480" cy="45" r="5"/><circle class="b" cx="570" cy="45" r="5"/><circle class="y" cx="600" cy="30" r="5"/><circle class="y" cx="690" cy="30" r="5"/>
<circle class="r" cx="720" cy="15" r="5"/><circle class="r" cx="810" cy="15" r="5"/><circle class="y" cx="840" cy="30" r="5"/><circle class="y" cx="870" cy="30" r="5"/><circle class="y" cx="900" cy="30" r="5"/><circle class="o" cx="930" cy="60" r="5"/>
<rect class="og" x="240" width="210" height="60"/>
<rect class="op" x="480" width="4" height="60"/><rect class="ob" x="484" width="476" height="60"/>
<text class="mn" y="-7"><tspan x="0">105</tspan><tspan x="240">106</tspan><tspan x="480">107</tspan><tspan x="720">108</tspan></text>
<text class="tp" y="-33"><tspan x="0">♩=129</tspan></text>
<text class="s1" y="75"><tspan x="239">168</tspan><tspan x="479">168</tspan><tspan x="719">168</tspan><tspan x="959">228</tspan></text>
<text class="s2" y="88.5"><tspan x="239">104025</tspan><tspan x="479">105033</tspan><tspan x="719">107049</tspan><tspan x="959">109785</tspan></text>
<text class="s3" y="101.5"><tspan x="239">0.00%</tspan><tspan x="479">25.00%</tspan><tspan x="719">12.75%</tspan><tspan x="959">0.25%</tspan></text>
</g>

<g id="row28" transform="translate(31,4348)">
<use href="#staff"/>
<path class="sb" d="M0 45h60M480 45h60"/>
<path class="sr" d="M240 15h60M720 15h60"/>
<path class="sy" d="M120 30h60M600 30h60"/>
<path class="sg" d="M420 0h45"/>
<circle class="b" cx="0" cy="45" r="5"/><circle class="b" cx="90" cy="45" r="5"/><circle class="y" cx="120" cy="30" r="5"/><circle class="y" cx="210" cy="30" r="5"/>
<circle class="r" cx="240" cy="15" r="5"/><circle class="r" cx="330" cy="15" r="5"/><circle class="y" cx="360" cy="30" r="5"/><circle class="g" cx="420" cy="0" r="5"/>
<circle class="b" cx="480" cy="45" r="5"/><circle class="b" cx="570" cy="45" r="5"/><circle class="y" cx="600" cy="30" r="5"/><circle class="y" cx="690" cy="30" r="5"/>
<circle class="r" cx="720" cy="15" r="5"/><circle class="r" cx="810" cy="15" r="5"/><circle class="y" cx="840" cy="30" r="5"/><circle class="y" cx="900" cy="30" r="5"/>
<rect class="ob" x="0" width="4" height="60"/>
<text class="mn" y="-7"><tspan x="0">109</tspan><tspan x="240">110</tspan><tspan x="480">111</tspan><tspan x="720">112</tspan></text>
<text class="tp" y="-33"><tspan x="480">♩=129</tspan></text>
<text class="s1" y="75"><tspan x="239">168</tspan><tspan x="479">165</tspan><tspan x="719">168</tspan><tspan x="959">156</tspan></text>
<text class="s2" y="88.5"><tspan x="239">111015</tspan><tspan x="479">112005</tspan><tspan x="719">113013</tspan><tspan x="959">113949</tspan></text>
<text class="s3" y="101.5"><tspan x="239">0.00%</tspan><tspan x="479">0.00%</tspan><tspan x="719">0.00%</tspan><tspan x="959">0.00%</tspan></text>
</g>

<g id="row29" transform="translate(31,4501)">
<use href="#staff"/>
<path class="sb" d="M0 45h60M480 45h60"/>
<path class="sr" d="M240 15h60M720 15h60"/>
<path class="sy" d="M120 30h60M360 30h60M600 30h60"/>
<circle class="b" cx="0" cy="45" r="5"/><circle class="b" cx="90" cy="45" r="5"/><circle class="y" cx="120" cy="30" r="5"/><circle class="y" cx="210" cy="30" r="5"/>
<circle class="r" cx="240" cy="15" r="5"/><circle class="r" cx="330" cy="15" r="5"/><circle class="y" cx="360" cy="30" r="5"/><circle class="y" cx="450" cy="30" r="5"/>
<use href="#st" class="b" x="480" y="45"/><use href="#st" class="b" x="570" y="45"/><use href="#st" class="y" x="600" y="30"/><use href="#st" class="y" x="690" y="30"/>
<circle class="r" cx="720" cy="15" r="5"/><circle class="r" cx="810" cy="15" r="5"/><circle class="y" cx="840" cy="30" r="5"/><circle class="y" cx="900" cy="30" r="5"/>
<rect class="og" x="480" width="210" height="60"/>
<text class="mn" y="-7"><tspan x="0">113</tspan><tspan x="240">114</tspan><tspan x="480">115</tspan><tspan x="720">116</tspan></text>
<text class="tp" y="-33"><tspan x="480">♩=129</tspan></text>
<text class="s1" y="75"><tspan x="239">168</tspan><tspan x="479">168</tspan><tspan x="719">168</tspan><tspan x="959">156</tspan></text>
<text class="s2" y="88.5"><tspan x="239">114957</tspan><tspan x="479">115965</tspan><tspan x="719">116973</tspan><tspan x="959">117909</tspan></text>
<text class="s3" y="101.5"><tspan x="239">0.00%</tspan><tspan x="479">0.00%</tspan><tspan x="719">25.00%</tspan><tspan x="959">25.00%</tspan></text>
</g>

<g id="row30" transform="translate(31,4654)">
<use href="#staff"/>
<path class="sb" d="M0 45h60M480 45h60"/>
<path class="sr" d="M240 15h60M720 15h60"/>
<path class="sy" d="M120 30h60M360 30h60M600 30h60"/>
<circle class="b" cx="0" cy="45" r="5"/><circle class="b" cx="90" cy="45" r="5"/><circle class="y" cx="120" cy="30" r="5"/><circle class="y" cx="210" cy="30" r="5"/>
<circle class="r" cx="240" cy="15" r="5"/><circle class="r" cx="330" cy="15" r="5"/><circle class="y" cx="360" cy="30" r="5"/><circle class="y" cx="450" cy="30" r="5"/>
<circle class="b" cx="480" cy="45" r="5"/><circle class="b" cx="570" cy="45" r="5"/><circle class="y" cx="600" cy="30" r="5"/><circle class="y" cx="690" cy="30" r="5"/>
<circle class="r" cx="720" cy="15" r="5"/><circle class="r" cx="810" cy="15" r="5"/><circle class="y" cx="840" cy="30" r="5"/><circle class="y" cx="900" cy="30" r="5"/>
<rect class="op" x="0" width="4" height="60"/><rect class="ob" x="4" width="480" height="60"/>
<text class="mn" y="-7"><tspan x="0">117</tspan><tspan x="240">118</tspan><tspan x="480">119</tspan><tspan x="720">120</tspan></text>
<text class="tp" y="-33"><tspan x="240">♩=129</tspan></text>
<text class="s1" y="75"><tspan x="239">168</tspan><tspan x="479">168</tspan><tspan x="719">168</tspan><tspan x="959">156</tspan></text>
<text class="s2" y="88.5"><tspan x="239">119925</tspan><tspan x="479">121941</tspan><tspan x="719">123171</tspan><tspan x="959">124107</tspan></text>
<text class="s3" y="101.5"><tspan x="239">12.73%</tspan><tspan x="479">0.23%</tspan><tspan x="719">0.00%</tspan><tspan x="959">0.00%</tspan></text>
</g>

<g id="row31" transform="translate(31,4807)">
<use href="#staff"/>
<path class="sb" d="M0 45h60M480 45h60"/>
<path class="sr" d="M240 15h60M720 15h60"/>
<path class="sy" d="M120 30h60M360 30h60M600 30h60"/>
<circle class="b" cx="0" cy="45" r="5"/><circle class="b" cx="90" cy="45" r="5"/><circle class="y" cx="120" cy="30" r="5"/><circle class="y" cx="210" cy="30" r="5"/>
<use href="#st" class="r" x="240" y="15"/><use href="#st" class="r" x="330" y="15"/><use href="#st" class="y" x="360" y="30"/><use href="#st" class="y" x="450" y="30"/>
<circle class="b" cx="480" cy="45" r="5"/><circle class="b" cx="570" cy="45" r="5"/><circle class="y" cx="600" cy="30" r="5"/><circle class="y" cx="690" cy="30" r="5"/>
<circle class="r" cx="720" cy="15" r="5"/><circle class="r" cx="810" cy="15" r="5"/><circle class="y" cx="840" cy="30" r="5"/><circle class="y" cx="900" cy="30" r="5"/>
<rect class="og" x="240" width="210" height="60"/>
<text class="mn" y="-7"><tspan x="0">121</tspan><tspan x="240">122</tspan><tspan x="480">123</tspan><tspan x="720">124</tspan></text>
<text class="tp" y="-33"><tspan x="480">♩=129</tspan></text>
<text class="s1" y="75"><tspan x="239">168</tspan><tspan x="479">168</tspan><tspan x="719">168</tspan><tspan x="959">156</tspan></text>
<text class="s2" y="88.5"><tspan x="239">125115</tspan><tspan x="479">126123</tspan><tspan x="719">127131</tspan><tspan x="959">128067</tspan></text>
<text class="s3" y="101.5"><tspan x="239">0.00%</tspan><tspan x="479">25.00%</tspan><tspan x="719">25.00%</tspan><tspan x="959">25.00%</tspan></text>
</g>

<g id="row32" transform="translate(31,4960)">
<use href="#staff"/>
<path class="sb" d="M0 45h60M480 45h60"/>
<path class="sr" d="M240 15h60M720 15h60"/>
<path class="sy" d="M120 30h60M360 30h60M600 30h60"/>
<circle class="b" cx="0" cy="45" r="5"/><circle class="b" cx="90" cy="45" r="5"/><circle class="y" cx="120" cy="30" r="5"/><circle class="y" cx="210" cy="30" r="5"/>
<circle class="r" cx="240" cy="15" r="5"/><circle class="r" cx="330" cy="15" r="5"/><circle class="y" cx="360" cy="30" r="5"/><circle class="y" cx="450" cy="30" r="5"/>
<circle class="b" cx="480" cy="45" r="5"/><circle class="b" cx="570" cy="45" r="5"/><circle class="y" cx="600" cy="30" r="5"/><circle class="y" cx="690" cy="30" r="5"/>
<circle class="r" cx="720" cy="15" r="5"/><circle class="r" cx="810" cy="15" r="5"/><circle class="y" cx="840" cy="30" r="5"/><circle class="y" cx="900" cy="30" r="5"/>
<text class="mn" y="-7"><tspan x="0">125</tspan><tspan x="240">126</tspan><tspan x="480">127</tspan><tspan x="720">128</tspan></text>
<text class="tp" y="-33"><tspan x="0">♩=129</tspan><tspan x="480">♩=129</tspan></text>
<text class="s1" y="75"><tspan x="239">168</tspan><tspan x="479">168</tspan><tspan x="719">168</tspan><tspan x="959">156</tspan></text>
<text class="s2" y="88.5"><tspan x="239">129075</tspan><tspan x="479">130083</tspan><tspan x="719">131091</tspan><tspan x="959">132027</tspan></text>
<text class="s3" y="101.5"><tspan x="239">25.00%</tspan><tspan x="479">25.00%</tspan><tspan x="719">25.00%</tspan><tspan x="959">25.00%</tspan></text>
</g>

<g id="row33" transform="translate(31,5113)">
<use href="#staff"/>
<path class="sb" d="M0 45h60M480 45h60"/>
<path class="sr" d="M240 15h60M720 15h60"/>
<path class="sy" d="M120 30h60M360 30h60M600 30h60"/>
<circle class="b" cx="0" cy="45" r="5"/><circle class="b" cx="90" cy="45" r="5"/><circle class="y" cx="120" cy="30" r="5"/><circle class="y" cx="210" cy="30" r="5"/>
<circle class="r" cx="240" cy="15" r="5"/><circle class="r" cx="330" cy="15" r="5"/><circle class="y" cx="360" cy="30" r="5"/><circle class="y" cx="450" cy="30" r="5"/>
<circle class="b" cx="480" cy="45" r="5"/><circle class="b" cx="570" cy="45" r="5"/><circle class="y" cx="600" cy="30" r="5"/><circle class="y" cx="690" cy="30" r="5"/>
<circle class="r" cx="720" cy="15" r="5"/><circle class="r" cx="810" cy="15" r="5"/><circle class="y" cx="840" cy="30" r="5"/><circle class="y" cx="870" cy="30" r="5"/><circle class="y" cx="900" cy="30" r="5"/><circle class="o" cx="930" cy="60" r="5"/>
<rect class="ob" x="449" width="480" height="60"/><rect class="op" x="929" width="4" height="60"/>
<text class="mn" y="-7"><tspan x="0">129</tspan><tspan x="240">130</tspan><tspan x="480">131</tspan><tspan x="720">132</tspan></text>
<text class="s1" y="75"><tspan x="239">168</tspan><tspan x="479">168</tspan><tspan x="719">168</tspan><tspan x="959">228</tspan></text>
<text class="s2" y="88.5"><tspan x="239">133035</tspan><tspan x="479">134259</tspan><tspan x="719">136275</tspan><tspan x="959">139011</tspan></text>
<text class="s3" y="101.5"><tspan x="239">25.00%</tspan><tspan x="479">23.42%</tspan><tspan x="719">10.92%</tspan><tspan x="959">0.00%</tspan></text>
</g>
</g>
</svg>
